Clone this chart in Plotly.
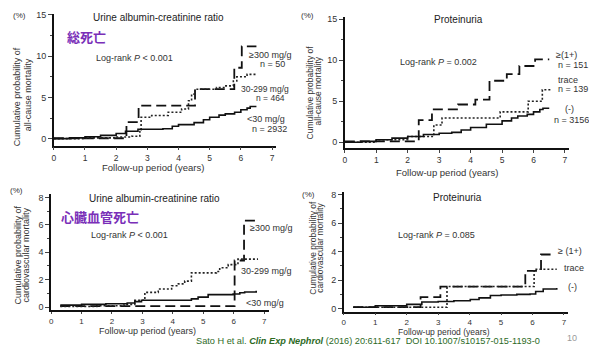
import plotly.graph_objects as go

W, H = 589, 347

# ---------------- data ----------------
# Panel A: all-cause mortality by urine albumin-creatinine ratio (%)
a_hi_t = [0, 2.33, 2.72, 4.53, 5.79, 6.03, 6.5]
a_hi_v = [0.05, 2.0, 4.0, 6.0, 8.6, 11.2, 11.2]
a_mid_t = [0, 1.0, 2.0, 2.5, 2.76, 2.8, 3.14, 3.67, 4.1, 4.32, 4.42, 4.53, 5.22, 5.49, 5.76, 5.87, 6.2, 6.5]
a_mid_v = [0, 0.1, 0.2, 0.3, 1.1, 2.6, 2.8, 3.2, 3.6, 4.6, 5.4, 6.0, 6.2, 6.4, 7.0, 7.5, 7.8, 7.8]
a_lo_t = [0, 0.5, 1, 1.5, 2, 2.3, 2.7, 3.5, 3.8, 4, 4.5, 4.8, 5, 5.3, 5.5, 5.8, 6, 6.2, 6.3, 6.5]
a_lo_v = [0, 0.1, 0.24, 0.4, 0.63, 0.9, 1.15, 1.2, 1.5, 1.7, 1.95, 2.3, 2.6, 2.85, 3.0, 3.2, 3.5, 3.7, 3.9, 3.9]

# Panel B: all-cause mortality by proteinuria (%)
b_hi_t = [0, 2.35, 2.77, 3.6, 4.15, 4.6, 5.15, 5.55, 6.05, 6.5]
b_hi_v = [0.1, 2.7, 4.0, 4.6, 5.2, 7.5, 8.3, 9.3, 10.1, 10.1]
b_mid_t = [0, 1.0, 2.0, 2.83, 3.09, 4.94, 5.83, 6.28, 6.55]
b_mid_v = [0, 0.3, 0.7, 2.1, 2.95, 3.7, 5.0, 6.4, 6.4]
b_lo_t = [0, 0.5, 1, 1.5, 2, 2.5, 3, 3.4, 3.7, 4, 4.5, 5, 5.3, 5.5, 5.8, 6, 6.2, 6.3, 6.5]
b_lo_v = [0, 0.1, 0.3, 0.5, 0.7, 0.95, 1.1, 1.2, 1.5, 1.8, 2.2, 2.6, 2.95, 3.2, 3.4, 3.7, 4.0, 4.15, 4.15]

# Panel C: cardiovascular mortality by urine albumin-creatinine ratio (%)
c_hi_t = [0.3, 6.03, 6.34, 6.74]
c_hi_v = [0.08, 3.4, 6.3, 6.3]
c_mid_t = [0.3, 1.5, 2.4, 2.75, 3.08, 3.52, 3.96, 4.18, 4.39, 4.61, 5.43, 5.54, 5.82, 6.14, 6.8]
c_mid_v = [0.05, 0.1, 0.2, 0.5, 1.08, 1.32, 1.56, 1.7, 1.9, 2.5, 2.6, 2.87, 3.1, 3.5, 3.5]
c_lo_t = [0.3, 1, 1.8, 2.5, 2.75, 2.97, 4.61, 4.83, 5.16, 5.98, 6.2, 6.36, 6.74]
c_lo_v = [0.15, 0.2, 0.25, 0.3, 0.4, 0.5, 0.6, 0.73, 0.91, 0.96, 1.05, 1.1, 1.2]

# Panel D: cardiovascular mortality by proteinuria (%)
d_hi_t = [0.3, 2.44, 3.07, 5.77, 6.27, 6.7]
d_hi_v = [0.1, 0.8, 1.55, 2.65, 3.8, 3.8]
d_mid_t = [0.3, 3.28, 6.05, 6.77]
d_mid_v = [0.1, 1.55, 2.76, 2.76]
d_lo_t = [0.3, 1, 2, 2.48, 3, 3.5, 4.02, 4.3, 4.66, 5, 5.5, 5.92, 6.1, 6.34, 6.77]
d_lo_v = [0.1, 0.2, 0.3, 0.46, 0.5, 0.55, 0.64, 0.75, 0.92, 0.95, 1.0, 1.03, 1.2, 1.38, 1.45]

x_ticks = [0, 1, 2, 3, 4, 5, 6, 7]
y_ticks_top = [0, 5, 10, 15]
y_ticks_bot = [0, 2, 4, 6, 8]

# ---------------- helpers ----------------
FONT = "Arial, Liberation Sans, sans-serif"
def px(x): return x / W
def py(y): return 1 - y / H

fig = go.Figure()

panels = [
    ("", (52, 275), (10.3, 144), [0, 7.13], [-0.83, 15.1], y_ticks_top, 2.5, 3, 8.5,
     [(a_hi_t, a_hi_v, "hi"), (a_mid_t, a_mid_v, "mid"), (a_lo_t, a_lo_v, "lo")]),
    ("2", (344, 569), (13, 147), [0, 7.13], [-0.76, 15.3], y_ticks_top, 2.5, 3, 8.5,
     [(b_hi_t, b_hi_v, "hi"), (b_mid_t, b_mid_v, "mid"), (b_lo_t, b_lo_v, "lo")]),
    ("3", (49.3, 267.6), (193.3, 311.7), [0, 7.15], [-0.23, 8.25], y_ticks_bot, 1, 2, 8,
     [(c_hi_t, c_hi_v, "hi"), (c_mid_t, c_mid_v, "mid"), (c_lo_t, c_lo_v, "lo")]),
    ("4", (343, 568), (191.7, 313), [0, 7.13], [-0.21, 8.16], y_ticks_bot, 1, 2, 8,
     [(d_hi_t, d_hi_v, "hi"), (d_mid_t, d_mid_v, "mid"), (d_lo_t, d_lo_v, "lo")]),
]

styles = {
    "hi": dict(color="#111", width=1.8, dash="10px,5px"),
    "mid": dict(color="#222", width=1.6, dash="2px,2px"),
    "lo": dict(color="#111", width=1.6, dash="solid"),
}

layout_axes = {}
for suf, xd, yd, xr, yr, yt, minor_dt, xtl, xfs, series in panels:
    xa = "x" + suf
    ya = "y" + suf
    for t, v, k in series:
        fig.add_trace(go.Scatter(x=t, y=v, mode="lines", line_shape="hv",
                                 line=styles[k], xaxis=xa, yaxis=ya,
                                 showlegend=False, hoverinfo="skip"))
    layout_axes["xaxis" + suf] = dict(
        domain=[px(xd[0]), px(xd[1])], range=xr, anchor=ya,
        tickvals=x_ticks, ticks="outside", ticklen=xtl, tickwidth=1.2,
        showline=True, linecolor="#111", linewidth=1.6, showgrid=False,
        zeroline=False, tickfont=dict(family=FONT, size=xfs, color="#333"),
        fixedrange=True)
    layout_axes["yaxis" + suf] = dict(
        domain=[py(yd[1]), py(yd[0])], range=yr, anchor=xa,
        tickvals=yt, ticks="outside", ticklen=4, tickwidth=1.2,
        minor=dict(dtick=minor_dt, tick0=0, ticks="outside", ticklen=2, tickwidth=1, showgrid=False),
        showline=True, linecolor="#111", linewidth=1.6, showgrid=False,
        zeroline=False, tickfont=dict(family=FONT, size=9, color="#333"),
        fixedrange=True)

fig.update_layout(**layout_axes)

ann = []
def txt(x, y, s, size=9, color="#333", xanchor="center", angle=0, family=FONT):
    ann.append(dict(x=px(x), y=py(y), xref="paper", yref="paper", text=s,
                    showarrow=False, xanchor=xanchor, yanchor="middle",
                    textangle=angle, font=dict(family=family, size=size, color=color)))

# Panel titles
txt(157, 14, "Urine albumin-creatinine ratio", size=10, color="#222")
txt(458, 16, "Proteinuria", size=10, color="#222")
txt(153, 198, "Urine albumin-creatinine ratio", size=10, color="#222")
txt(457, 197, "Proteinuria", size=10, color="#222")

# Japanese labels
JP = "Noto Sans CJK JP, sans-serif"
txt(63, 33, "<b>総死亡</b>", size=13, color="#7a2fb8", xanchor="left", family=JP)
txt(57, 216, "<b>心臓血管死亡</b>", size=13, color="#7a2fb8", xanchor="left", family=JP)

# Log-rank
txt(92, 55, "Log-rank <i>P</i> < 0.001", size=9, xanchor="left")
txt(397, 59, "Log-rank <i>P</i> = 0.002", size=9, xanchor="left")
txt(87, 235, "Log-rank <i>P</i> < 0.001", size=9, xanchor="left")
txt(395, 235, "Log-rank <i>P</i> = 0.085", size=9, xanchor="left")

# (%)
txt(18, 12, "(%)", size=8)
txt(307, 12, "(%)", size=8)
txt(15, 190, "(%)", size=8)
txt(308, 194, "(%)", size=8)

# y-axis titles
txt(15, 94, "Cumulative probability of", size=9, angle=-90)
txt(27, 92, "all-cause mortality", size=9, angle=-90)
txt(309, 90, "Cumulative probability of", size=8.5, angle=-90)
txt(318, 88, "all-cause mortality", size=8.5, angle=-90)
txt(16, 255, "Cumulative probability of", size=9, angle=-90)
txt(24, 255, "cardiovascular mortality", size=9, angle=-90)
txt(312, 248, "Cumulative probability of", size=8.5, angle=-90)
txt(319, 248, "cardiovascular mortality", size=8.5, angle=-90)

# x-axis titles
txt(152, 166, "Follow-up period (years)", size=9.5)
txt(447, 171, "Follow-up period (years)", size=9.5)
txt(146, 333, "Follow-up period (years)", size=9)
txt(444, 333.5, "Follow-up period (years)", size=8.5)

# series labels panel A
txt(269, 52, "≥300 mg/g", size=9)
txt(271, 61, "n = 50", size=9)
txt(264, 86.5, "30-299 mg/g", size=8.5)
txt(269, 96, "n = 464", size=8.5)
txt(265, 117, "<30 mg/g", size=9)
txt(268, 127, "n = 2932", size=9)
# panel B
txt(566, 52, "≥(1+)", size=9)
txt(573, 62, "n = 151", size=9)
txt(568, 77, "trace", size=9)
txt(573, 87, "n = 139", size=9)
txt(569, 107, "(-)", size=9)
txt(571, 118, "n = 3156", size=9)
# panel C
txt(270, 228, "≥300 mg/g", size=9)
txt(265, 272, "30-299 mg/g", size=9)
txt(264, 304, "<30 mg/g", size=9)
# panel D
txt(570, 251, "≥ (1+)", size=9)
txt(574, 269, "trace", size=9)
txt(572, 288, "(-)", size=9)

# citation
txt(193, 343, "Sato H et al. <b><i>Clin Exp Nephrol</i></b> (2016) 20:611-617  DOI 10.1007/s10157-015-1193-0",
    size=9.2, color="#2d6a1f", xanchor="left")
txt(572, 340, "10", size=9, color="#999")

fig.update_layout(annotations=ann, width=W, height=H,
                  margin=dict(l=0, r=0, t=0, b=0),
                  paper_bgcolor="white", plot_bgcolor="white")

fig.write_html("out.html", config={"displayModeBar": False})
